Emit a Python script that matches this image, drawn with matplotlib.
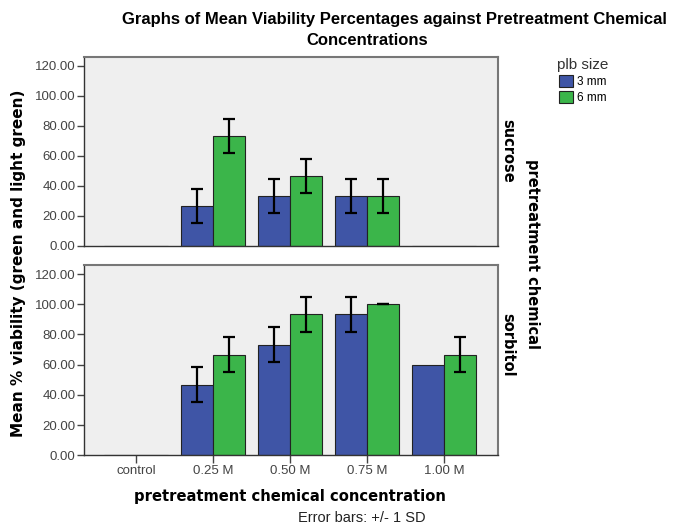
import numpy as np
import matplotlib
matplotlib.use("Agg")
import matplotlib.pyplot as plt
from matplotlib.patches import Patch

plt.rcParams['font.family'] = ['Liberation Sans', 'DejaVu Sans']

concentrations = ["control", "0.25 M", "0.50 M", "0.75 M", "1.00 M"]
chemicals = ["sucrose", "sorbitol"]
sizes = ["3 mm", "6 mm"]

# mean % viability per chemical, per plb size
sucrose_3mm = [0.0, 26.7, 33.3, 33.3, 0.0]
sucrose_6mm = [0.0, 73.3, 46.7, 33.3, 0.0]
sorbitol_3mm = [0.0, 46.7, 73.3, 93.3, 60.0]
sorbitol_6mm = [0.0, 66.7, 93.3, 100.0, 66.7]

# standard deviations (None = no error bar drawn)
sucrose_3mm_sd = [None, 11.5, 11.5, 11.5, None]
sucrose_6mm_sd = [None, 11.5, 11.5, 11.5, None]
sorbitol_3mm_sd = [None, 11.5, 11.5, 11.5, None]
sorbitol_6mm_sd = [None, 11.5, 11.5, 0.0, 11.5]

BLUE = "#3f55a6"
GREEN = "#3bb54a"
BG = "#efefef"
BOLD = ['DejaVu Sans']

fig = plt.figure(figsize=(6.78, 5.30), dpi=100)
ax_top = fig.add_axes([0.124, 0.536, 0.611, 0.357])
ax_bot = fig.add_axes([0.124, 0.141, 0.611, 0.359])

panels = [
    (ax_top, sucrose_3mm, sucrose_6mm, sucrose_3mm_sd, sucrose_6mm_sd),
    (ax_bot, sorbitol_3mm, sorbitol_6mm, sorbitol_3mm_sd, sorbitol_6mm_sd),
]

x = np.arange(len(concentrations))
w = 0.415

for ax, v3, v6, s3, s6 in panels:
    ax.set_facecolor(BG)
    ax.bar(x - w / 2, v3, w, color=BLUE, edgecolor="#222222", linewidth=0.8)
    ax.bar(x + w / 2, v6, w, color=GREEN, edgecolor="#222222", linewidth=0.8)
    for xs, vals, sds in [(x - w / 2, v3, s3), (x + w / 2, v6, s6)]:
        for xi, v, sd in zip(xs, vals, sds):
            if sd is None:
                continue
            ax.errorbar(xi, v, yerr=sd, color="black", capsize=4,
                        elinewidth=1.6, capthick=1.6)
    ax.set_xlim(-0.68, 4.7)
    ax.set_ylim(0, 126)
    ax.set_yticks(np.arange(0, 121, 20))
    ax.set_yticklabels([f"{t:.2f}" for t in np.arange(0, 121, 20)],
                       fontsize=9.5, color="#444444")
    ax.tick_params(axis="y", length=5, width=1, color="#444444", pad=1)
    for side in ["top", "right"]:
        ax.spines[side].set_color("#777777")
        ax.spines[side].set_linewidth(1.5)
    for side in ["left", "bottom"]:
        ax.spines[side].set_color("#333333")
        ax.spines[side].set_linewidth(1.0)

ax_top.set_xticks([])
ax_bot.set_xticks(x)
ax_bot.set_xticklabels(concentrations, fontsize=9.5, color="#444444")
ax_bot.tick_params(axis="x", length=6, width=1, color="#444444", pad=1)

fig.text(0.582, 0.963, "Graphs of Mean Viability Percentages against Pretreatment Chemical",
         ha="center", va="center", fontsize=12, fontweight="bold")
fig.text(0.541, 0.924, "Concentrations", ha="center", va="center",
         fontsize=12, fontweight="bold")

fig.text(0.027, 0.504, "Mean % viability (green and light green)", rotation=90,
         ha="center", va="center", fontsize=11, fontweight="bold", family=BOLD)
fig.text(0.428, 0.064, "pretreatment chemical concentration", ha="center",
         va="center", fontsize=10.6, fontweight="bold", family=BOLD)
fig.text(0.534, 0.022, "Error bars: +/- 1 SD", ha="center", va="center",
         fontsize=10.5, color="#222222")

fig.text(0.749, 0.716, chemicals[0], rotation=-90, ha="center", va="center",
         fontsize=10.5, fontweight="bold", family=BOLD)
fig.text(0.749, 0.349, chemicals[1], rotation=-90, ha="center", va="center",
         fontsize=10.5, fontweight="bold", family=BOLD)
fig.text(0.785, 0.52, "pretreatment chemical", rotation=-90, ha="center",
         va="center", fontsize=10.5, fontweight="bold", family=BOLD)

handles = [Patch(facecolor=BLUE, edgecolor="#222222", linewidth=0.8),
           Patch(facecolor=GREEN, edgecolor="#222222", linewidth=0.8)]
leg = fig.legend(handles, sizes, title="plb size", loc="upper left",
                 bbox_to_anchor=(0.8215, 0.891), frameon=False, fontsize=8.5,
                 title_fontsize=11, handlelength=1.2, handleheight=1.2,
                 handletextpad=0.3, labelspacing=0.25, borderpad=0,
                 borderaxespad=0)
leg.get_title().set_color("#333333")

fig.savefig("out.png", dpi=100)
